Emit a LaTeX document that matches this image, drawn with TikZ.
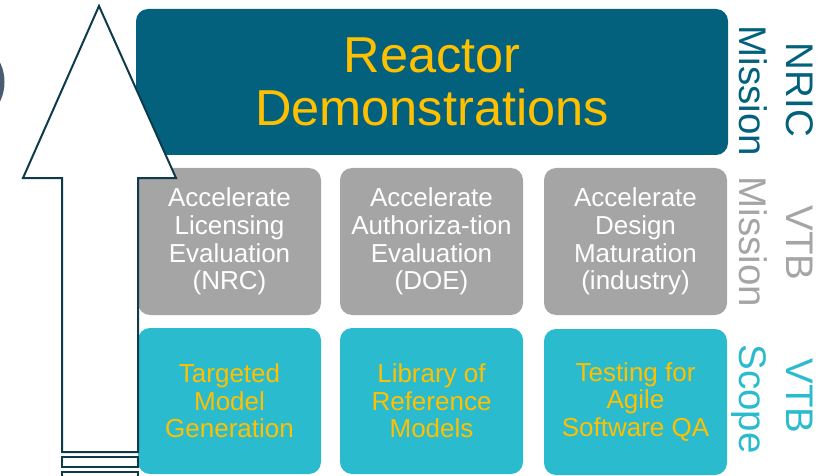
\documentclass[tikz,border=0pt]{standalone}
\usepackage{fontspec}
\setmainfont{Liberation Sans}
\definecolor{darkteal}{HTML}{04617E}
\definecolor{gold}{HTML}{FFC000}
\definecolor{midgray}{HTML}{A5A5A5}
\definecolor{cyanbox}{HTML}{2BBBCF}
\definecolor{outline}{HTML}{0D3B4A}
\definecolor{slate}{HTML}{4A5A70}
\begin{document}
\begin{tikzpicture}[x=1pt,y=-1pt,
  box/.style={rounded corners=12pt, inner sep=0pt, align=center},
  topbox/.style={box, fill=darkteal, text=gold, minimum width=592pt, minimum height=146pt,
     font=\fontsize{50.5}{53}\selectfont},
  graybox/.style={box, fill=midgray, text=white, minimum width=183pt, minimum height=147pt,
     font=\fontsize{26}{27.8}\selectfont},
  cyanbox/.style={box, fill=cyanbox, text=gold, minimum width=183pt, minimum height=146pt,
     font=\fontsize{26}{27.5}\selectfont},
  sidelabel/.style={rotate=-90, anchor=base, inner sep=0pt, font=\fontsize{38.5}{40}\selectfont},
  arrowline/.style={draw=outline, line width=2pt, fill=white, line join=miter}
]
\useasboundingbox (0,0) rectangle (822,476);
\fill[slate] (-40.5,82) circle (45pt);

\node[topbox] (top) at (432,82) {Reactor\\Demonstrations};

\node[graybox] (g1) at (229.5,241.5) {Accelerate\\Licensing\\Evaluation\\(NRC)};
\node[graybox] (g2) at (431.5,241.5) {Accelerate\\Authoriza-tion\\Evaluation\\(DOE)};
\node[graybox] (g3) at (635.5,241.5) {Accelerate\\Design\\Maturation\\(industry)};

\node[cyanbox] (c1) at (229.5,401) {Targeted\\Model\\Generation};
\node[cyanbox] (c2) at (431.5,401) {Library of\\Reference\\Models};
\node[cyanbox] (c3) at (635.5,402) {Testing for\\Agile\\Software QA};

\node[sidelabel, text=darkteal] (l1a) at (786,90) {NRIC};
\node[sidelabel, text=darkteal] (l1b) at (739,91) {Mission};
\node[sidelabel, text=midgray] (l2a) at (786,243) {VTB};
\node[sidelabel, text=midgray] (l2b) at (739,242) {Mission};
\node[sidelabel, text=cyanbox] (l3a) at (786,396) {VTB};
\node[sidelabel, text=cyanbox] (l3b) at (739,399) {Scope};

\draw[arrowline] (99,6) -- (176,178) -- (138,178) -- (138,452) -- (62,452) -- (62,178) -- (23,178) -- cycle;
\draw[arrowline] (62,457) rectangle (138,467);
\draw[arrowline] (62,471.5) rectangle (138,480);
\end{tikzpicture}
\end{document}
